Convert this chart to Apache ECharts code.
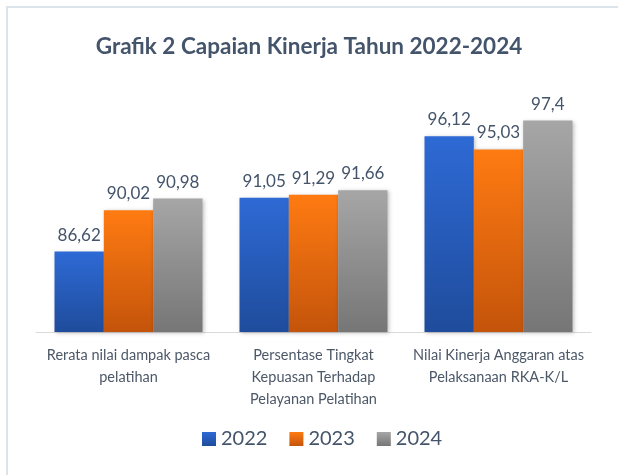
<!DOCTYPE html>
<html>
<head>
<meta charset="utf-8">
<title>Grafik 2 Capaian Kinerja</title>
<script src="https://cdn.jsdelivr.net/npm/echarts@6/dist/echarts.min.js"></script>
<style>
  html, body { margin: 0; padding: 0; background: #fff; }
  #main { width: 618px; height: 475px; }
</style>
</head>
<body>
<div id="main"></div>
<script>
'use strict';
// data
var categories = [
  'Rerata nilai dampak pasca\npelatihan',
  'Persentase Tingkat\nKepuasan Terhadap\nPelayanan Pelatihan',
  'Nilai Kinerja Anggaran atas\nPelaksanaan RKA-K/L'
];
var years = ['2022', '2023', '2024'];
var values2022 = [86.62, 91.05, 96.12];
var values2023 = [90.02, 91.29, 95.03];
var values2024 = [90.98, 91.66, 97.4];

var textColor = '#44546a';
var fontName = 'Lato, "Noto Sans", sans-serif';

function grad(top, bottom) {
  return new echarts.graphic.LinearGradient(0, 0, 0, 1, [
    { offset: 0, color: top },
    { offset: 1, color: bottom }
  ]);
}
var colors = [
  grad('#2e6ad5', '#1f4c9c'),
  grad('#ff7b12', '#c4540b'),
  grad('#a6a6a6', '#767676')
];

// label angka pakai koma
function fmt(p) {
  return String(p.value).replace('.', ',');
}

function makeSeries(name, data, idx) {
  return {
    name: name,
    type: 'bar',
    data: data,
    barGap: '0%',
    barCategoryGap: '20%',
    itemStyle: {
      color: colors[idx],
      shadowColor: 'rgba(0,0,0,0.25)',
      shadowBlur: 4,
      shadowOffsetX: 1,
      shadowOffsetY: 1
    },
    label: {
      show: true,
      position: 'top',
      distance: 8,
      formatter: fmt,
      color: textColor,
      fontSize: 17,
      fontFamily: fontName
    }
  };
}

var chart = echarts.init(document.getElementById('main'));
chart.setOption({
  animation: false,
  title: {
    text: 'Grafik 2 Capaian Kinerja Tahun 2022-2024',
    left: 'center',
    top: 30,
    textStyle: {
      color: textColor,
      fontSize: 22.5,
      fontWeight: 'bold',
      fontFamily: fontName
    }
  },
  graphic: [{
    type: 'rect',
    shape: { x: 7, y: 7, width: 700, height: 600 },
    style: { fill: 'none', stroke: '#dde3ea', lineWidth: 2 },
    silent: true
  }],
  legend: {
    data: years,
    bottom: 21,
    left: 197,
    itemWidth: 14,
    itemHeight: 14,
    itemGap: 22,
    icon: 'rect',
    textStyle: {
      color: textColor,
      fontSize: 20,
      fontFamily: fontName
    }
  },
  grid: {
    left: 36,
    right: 27,
    top: 89,
    bottom: 143,
    containLabel: false
  },
  xAxis: {
    type: 'category',
    data: categories,
    axisTick: { show: false },
    axisLine: { lineStyle: { color: '#d9d9d9', width: 1 } },
    axisLabel: {
      color: '#4c5868',
      fontSize: 14.5,
      lineHeight: 22,
      margin: 12,
      fontFamily: fontName,
      interval: 0
    }
  },
  yAxis: {
    type: 'value',
    min: 80,
    max: 100,
    show: false,
    splitLine: { show: false }
  },
  series: [
    makeSeries(years[0], values2022, 0),
    makeSeries(years[1], values2023, 1),
    makeSeries(years[2], values2024, 2)
  ]
});
</script>
</body>
</html>
